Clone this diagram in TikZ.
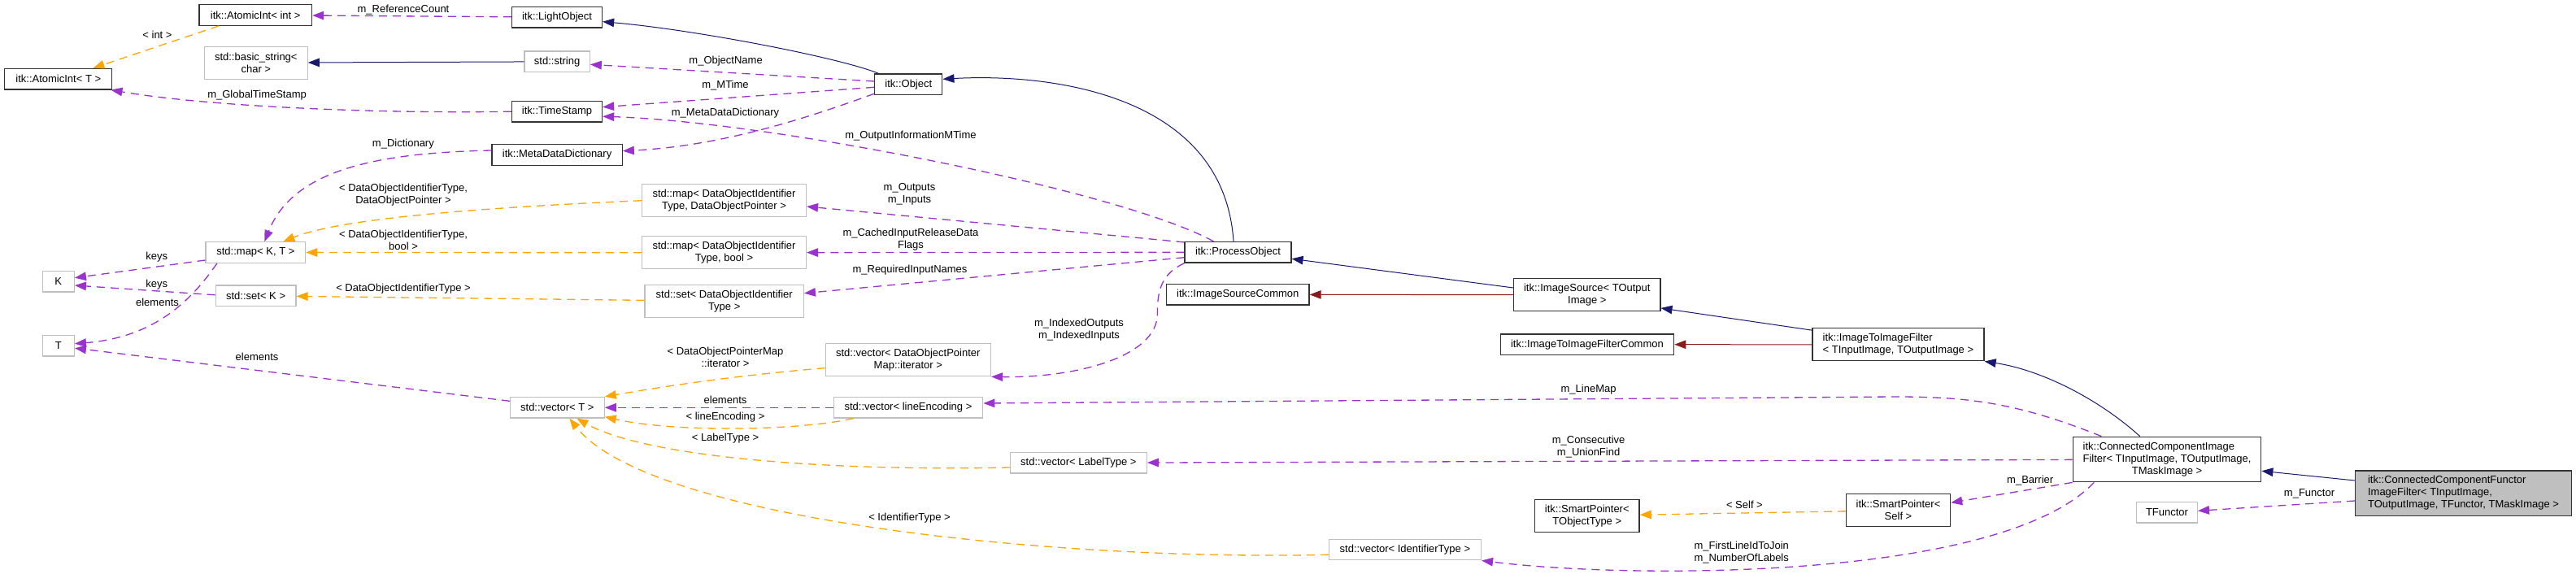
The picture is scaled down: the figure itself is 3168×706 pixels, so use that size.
\documentclass[tikz,border=0pt]{standalone}
\usepackage{fontspec}
\setmainfont{Liberation Sans}
\usetikzlibrary{arrows.meta}
\definecolor{inhblue}{HTML}{191970}
\definecolor{privred}{HTML}{8B1A1A}
\definecolor{tmplorange}{HTML}{FFA500}
\definecolor{usepurple}{HTML}{9A32CD}
\definecolor{extgray}{HTML}{BFBFBF}

\begin{document}
\begin{tikzpicture}[x=1pt, y=-1pt,
  cls/.style={rectangle, draw=black!80, line width=1.3pt, inner sep=0pt,
    minimum height=25.5pt, align=center, font=\fontsize{13}{15}\selectfont},
  ext/.style={cls, draw=extgray},
  focus/.style={cls, fill=extgray},
  two/.style={minimum height=40pt},
  three/.style={minimum height=55.5pt},
  lbl/.style={inner sep=0pt, align=center, font=\fontsize{13}{15}\selectfont},
  inherit/.style={-{Triangle[length=14pt, width=10.5pt]}, draw=inhblue, line width=1pt},
  privinh/.style={inherit, draw=privred},
  member/.style={-{Triangle[length=14pt, width=10.5pt]}, draw=usepurple, line width=1.3pt,
    dash pattern=on 10pt off 7pt},
  tmpl/.style={member, draw=tmplorange}
]
\path [use as bounding box, fill=white] (0,0) rectangle (3168,706);

\node (aiint) [cls, minimum width=138.7] at (314.2,18.5) {itk::AtomicInt< int >};
\node (lightobj) [cls, minimum width=111] at (685,21.2) {itk::LightObject};
\node (bstring) [ext, two, minimum width=126.7] at (314.8,77.2) {std::basic\_string<\\char >};
\node (string) [ext, minimum width=80.2] at (685.1,75.8) {std::string};
\node (aiT) [cls, minimum width=132] at (71.8,97.2) {itk::AtomicInt< T >};
\node (object) [cls, minimum width=83] at (1117.3,103.8) {itk::Object};
\node (timestamp) [cls, minimum width=111] at (685,137.2) {itk::TimeStamp};
\node (mdd) [cls, minimum width=160.2] at (685.1,190.5) {itk::MetaDataDictionary};
\node (mapdop) [ext, two, minimum width=201.8] at (890.5,246.7) {std::map< DataObjectIdentifier\\Type, DataObjectPointer >};
\node (mapKT) [ext, minimum width=122.6] at (314.4,310.5) {std::map< K, T >};
\node (mapbool) [ext, two, minimum width=201.8] at (890.5,310.7) {std::map< DataObjectIdentifier\\Type, bool >};
\node (procobj) [cls, minimum width=130.8] at (1522.5,310.3) {itk::ProcessObject};
\node (K) [ext, minimum width=39] at (71.8,346.2) {K};
\node (setK) [ext, minimum width=98.8] at (314.6,363.8) {std::set< K >};
\node (setdoit) [ext, two, minimum width=195.2] at (890.7,370.5) {std::set< DataObjectIdentifier\\Type >};
\node (isc) [cls, minimum width=175.4] at (1522.3,362.3) {itk::ImageSourceCommon};
\node (imgsrc) [cls, two, minimum width=180.1] at (1951.8,362.7) {itk::ImageSource< TOutput\\Image >};
\node (T) [ext, minimum width=39] at (71.8,425.2) {T};
\node (i2icommon) [cls, minimum width=213.5] at (1951.9,423.7) {itk::ImageToImageFilterCommon};
\node (i2i) [cls, two, minimum width=211.1, align=left] at (2334.4,423.8) {itk::ImageToImageFilter\\< TInputImage, TOutputImage >};
\node (vecDOPit) [ext, two, minimum width=203.2] at (1116.8,442.7) {std::vector< DataObjectPointer\\Map::iterator >};
\node (vecT) [ext, minimum width=115.7] at (685.3,501.3) {std::vector< T >};
\node (vecLE) [ext, minimum width=183.5] at (1117,501.3) {std::vector< lineEncoding >};
\node (vecLabel) [ext, minimum width=167.7] at (1326.4,569.3) {std::vector< LabelType >};
\node (ccif) [cls, three, minimum width=231.4] at (2665,565) {\begin{tabular}{@{}l@{}}itk::ConnectedComponentImage\\Filter< TInputImage, TOutputImage,\\\multicolumn{1}{@{}c@{}}{TMaskImage >}\end{tabular}};
\node (ccfif) [focus, three, minimum width=265.5] at (3029.5,606.8) {\begin{tabular}{@{}l@{}}itk::ConnectedComponentFunctor\\ImageFilter< TInputImage,\\\multicolumn{1}{@{}c@{}}{TOutputImage, TFunctor, TMaskImage >}\end{tabular}};
\node (tfunctor) [ext, minimum width=74.6] at (2665,630.3) {TFunctor};
\node (spTOT) [cls, two, minimum width=128.5] at (1951.8,634.3) {itk::SmartPointer<\\TObjectType >};
\node (vecID) [ext, minimum width=187] at (1727.9,676) {std::vector< IdentifierType >};
\node (spSelf) [cls, two, minimum width=128.1] at (2334.5,627.7) {itk::SmartPointer<\\Self >};

\draw [inherit] ([xshift=5.5]object.north west) .. controls (1030,70) and (850,36) .. ([yshift=-5.5]lightobj.east);
\draw [inherit] (string) -- (bstring);
\draw [inherit] ([xshift=-5.5]procobj.north) .. controls (1505,115) and (1290,90) .. ([yshift=6.5]object.east);
\draw [inherit] ([yshift=8.7]imgsrc.west) -- ([yshift=-8]procobj.east);
\draw [privinh] (imgsrc) -- (isc);
\draw [inherit] ([yshift=-3]i2i.north west) -- ([yshift=4.4]imgsrc.south east);
\draw [privinh] (i2i) -- (i2icommon);
\draw [inherit] ([xshift=-33.3]ccif.north) .. controls (2580,490) and (2510,455) .. (i2i.south east);
\draw [inherit] ([yshift=15.8]ccfif.west) -- ([yshift=-14.3]ccif.east);

\draw [tmpl] ([xshift=25]aiint.south west) -- ([xshift=-24]aiT.north east);
\draw [tmpl] (mapdop.west) .. controls (600,255) and (420,268) .. ([xshift=-28]mapKT.north east);
\draw [tmpl] (mapbool) -- (mapKT);
\draw [tmpl] (setdoit) -- (setK);
\draw [tmpl] ([yshift=-10]vecDOPit.west) .. controls (900,462) and (800,478) .. (vecT.north east);
\draw [tmpl] ([xshift=25]vecLE.south west) .. controls (980,530) and (830,532) .. ([yshift=2]vecT.south east);
\draw [tmpl] ([yshift=-5.7]vecLabel.west) .. controls (1000,580) and (790,560) .. ([xshift=24]vecT.south);
\draw [tmpl] ([yshift=-6.3]vecID.west) .. controls (1300,690) and (800,640) .. ([xshift=15]vecT.south);
\draw [tmpl] (spSelf) -- (spTOT);

\draw [member] (lightobj) -- (aiint);
\draw [member] (timestamp.west) .. controls (450,140) and (250,130) .. ([xshift=-2]aiT.south east);
\draw [member] ([yshift=3.8]object.west) -- ([yshift=-3.5]string.east);
\draw [member] ([yshift=-3.5]object.west) -- ([yshift=5.5]timestamp.east);
\draw [member] ([yshift=2]object.south west) .. controls (980,150) and (880,180) .. ([yshift=4.8]mdd.east);
\draw [member] ([xshift=36]procobj.north west) .. controls (1380,235) and (950,150) .. ([yshift=-6]timestamp.east);
\draw [member] ([yshift=5.5]mdd.west) .. controls (460,188) and (360,210) .. ([xshift=11]mapKT.north);
\draw [member] ([yshift=-1]procobj.north west) -- ([yshift=-7.3]mapdop.east);
\draw [member] (procobj) -- (mapbool);
\draw [member] ([yshift=-6.4]procobj.west) -- ([yshift=9.8]setdoit.east);
\draw [member] (procobj.south west) .. controls (1430,336) and (1423,355) .. (1423.5,385)
  .. controls (1424,440) and (1320,465) .. (vecDOPit.south east);
\draw [member] ([yshift=-9.5]mapKT.west) -- ([yshift=4.5]K.east);
\draw [member] ([yshift=1]setK.west) -- ([yshift=-4.8]K.east);
\draw [member] ([xshift=-47.5]mapKT.south) .. controls (235,370) and (190,415) .. ([yshift=2.5]T.east);
\draw [member] ([yshift=8]vecT.west) -- ([yshift=-3]T.east);
\draw [member] (vecLE) -- (vecT);
\draw [member] ([xshift=35.7]ccif.north west) .. controls (2480,495) and (2420,488) .. (2330,488)
  -- ([yshift=5.3]vecLE.east);
\draw [member] (ccif) -- (vecLabel);
\draw [member] (ccif.south west) -- ([yshift=9.4]spSelf.east);
\draw [member] ([xshift=26.6]ccif.south west) .. controls (2460,715) and (2000,712) .. (vecID.south east);
\draw [member] ([yshift=-9.2]ccfif.west) -- ([yshift=2]tfunctor.east);

\node (lRefCount) [lbl] at (496,11.7) {m\_ReferenceCount};
\node (lInt) [lbl] at (193.5,43.3) {< int >};
\node (lGlobalTS) [lbl] at (316.1,116.7) {m\_GlobalTimeStamp};
\node (lObjName) [lbl] at (892.6,74.7) {m\_ObjectName};
\node (lMTime) [lbl] at (892,104.7) {m\_MTime};
\node (lMDD) [lbl] at (892,139.3) {m\_MetaDataDictionary};
\node (lOutInfo) [lbl] at (1120,167.3) {m\_OutputInformationMTime};
\node (lDict) [lbl] at (495.9,176.7) {m\_Dictionary};
\node (lDOP) [lbl] at (496,240) {< DataObjectIdentifierType,\\DataObjectPointer >};
\node (lOutIn) [lbl] at (1118.5,239.2) {m\_Outputs\\m\_Inputs};
\node (lBool) [lbl] at (496,295) {< DataObjectIdentifierType,\\bool >};
\node (lCached) [lbl] at (1120,295) {m\_CachedInputReleaseData\\Flags};
\node (lKeys1) [lbl] at (192.8,316) {keys};
\node (lReqNames) [lbl] at (1119,331.7) {m\_RequiredInputNames};
\node (lKeys2) [lbl] at (192.8,350) {keys};
\node (lDOIT) [lbl] at (496,355) {< DataObjectIdentifierType >};
\node (lElem1) [lbl] at (193.5,372.3) {elements};
\node (lIndexed) [lbl] at (1327,405.7) {m\_IndexedOutputs\\m\_IndexedInputs};
\node (lElem2) [lbl] at (316.1,438.7) {elements};
\node (lIter) [lbl] at (892,439.3) {< DataObjectPointerMap\\::iterator >};
\node (lLineMap) [lbl] at (1953.6,479.3) {m\_LineMap};
\node (lElem3) [lbl] at (892,492.3) {elements};
\node (lLineEnc) [lbl] at (892,512.7) {< lineEncoding >};
\node (lLabelT) [lbl] at (892,539) {< LabelType >};
\node (lConsec) [lbl] at (1953.6,549.5) {m\_Consecutive\\m\_UnionFind};
\node (lBarrier) [lbl] at (2496.7,590.7) {m\_Barrier};
\node (lFunctor) [lbl] at (2840,607.7) {m\_Functor};
\node (lSelf) [lbl] at (2145.4,620.7) {< Self >};
\node (lIdT) [lbl] at (1118.5,636.7) {< IdentifierType >};
\node (lFirstLine) [lbl] at (2141.7,680) {m\_FirstLineIdToJoin\\m\_NumberOfLabels};

\end{tikzpicture}
\end{document}
